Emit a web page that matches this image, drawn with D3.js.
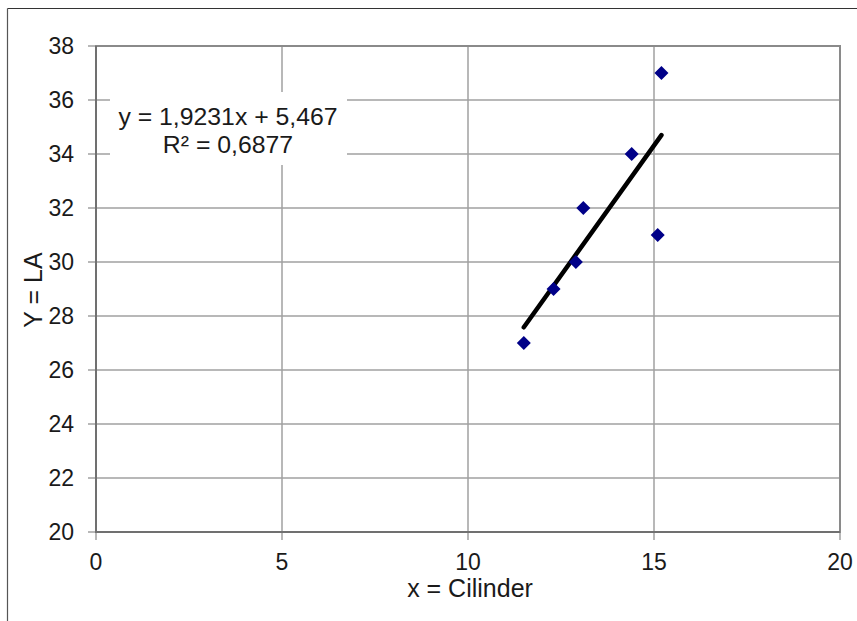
<!DOCTYPE html>
<html>
<head>
<meta charset="utf-8">
<script src="https://cdn.jsdelivr.net/npm/d3@7"></script>
<style>
  body { margin: 0; background: #fff; }
  text { font-family: "Liberation Sans", Arial, sans-serif; fill: #1a1a1a; }
</style>
</head>
<body>
<svg id="chart" width="857" height="621"></svg>
<script>
// data
var cilinder = [11.5, 12.3, 12.9, 13.1, 14.4, 15.1, 15.2];
var la = [27, 29, 30, 32, 34, 31, 37];
var xTicks = [0, 5, 10, 15, 20];
var yTicks = [20, 22, 24, 26, 28, 30, 32, 34, 36, 38];
var slope = 1.9231, intercept = 5.467;
var eqLines = ["y = 1,9231x + 5,467", "R\u00b2 = 0,6877"];

var svg = d3.select("#chart");
var margin = { left: 96, right: 17, top: 46, bottom: 89 };
var W = 857, H = 621;

// frame lines left/top
svg.append("line").attr("x1", 7.5).attr("x2", W).attr("y1", 8.5).attr("y2", 8.5)
    .attr("stroke", "#333").attr("stroke-width", 1.2);
svg.append("line").attr("x1", 7.5).attr("x2", 7.5).attr("y1", 8.5).attr("y2", H)
    .attr("stroke", "#555").attr("stroke-width", 1.2);

var x = d3.scaleLinear().domain([0, 20]).range([margin.left, W - margin.right]);
var y = d3.scaleLinear().domain([20, 38]).range([H - margin.bottom, margin.top]);

// grid
svg.append("g").selectAll("line").data(yTicks).enter().append("line")
    .attr("x1", x(0) - 8).attr("x2", x(20))
    .attr("y1", d => y(d)).attr("y2", d => y(d))
    .attr("stroke", "#a0a0a0").attr("stroke-width", 1.5);
svg.append("g").selectAll("line").data(xTicks).enter().append("line")
    .attr("x1", d => x(d)).attr("x2", d => x(d))
    .attr("y1", y(38)).attr("y2", y(20) + 8)
    .attr("stroke", "#a0a0a0").attr("stroke-width", 1.5);

// plot border
svg.append("rect").attr("x", x(0)).attr("y", y(38))
    .attr("width", x(20) - x(0)).attr("height", y(20) - y(38))
    .attr("fill", "none").attr("stroke", "#8a8a8a").attr("stroke-width", 2);
svg.append("path")
    .attr("d", "M" + x(0) + "," + y(38) + "V" + y(20) + "H" + x(20))
    .attr("fill", "none").attr("stroke", "#707070").attr("stroke-width", 2);

// tick labels
svg.append("g").selectAll("text").data(yTicks).enter().append("text")
    .attr("x", 74).attr("y", d => y(d) + 8)
    .attr("text-anchor", "end").attr("font-size", 23).text(d => d);
svg.append("g").selectAll("text").data(xTicks).enter().append("text")
    .attr("x", d => x(d)).attr("y", 570)
    .attr("text-anchor", "middle").attr("font-size", 23).text(d => d);

// axis titles
svg.append("text").attr("x", 470).attr("y", 597)
    .attr("text-anchor", "middle").attr("font-size", 25).text("x = Cilinder");
svg.append("text").attr("transform", "translate(42,290) rotate(-90)")
    .attr("text-anchor", "middle").attr("font-size", 25).text("Y = LA");

// equation box
svg.append("rect").attr("x", 110).attr("y", 92).attr("width", 237).attr("height", 73)
    .attr("fill", "#fff");
svg.append("g").selectAll("text").data(eqLines).enter().append("text")
    .attr("x", 228).attr("y", (d, i) => 125 + i * 28)
    .attr("text-anchor", "middle").attr("font-size", 24.8).text(d => d);

// trend line
var x0 = d3.min(cilinder), x1 = d3.max(cilinder);
svg.append("line")
    .attr("x1", x(x0)).attr("y1", y(slope * x0 + intercept))
    .attr("x2", x(x1)).attr("y2", y(slope * x1 + intercept))
    .attr("stroke", "#000").attr("stroke-width", 4.5).attr("stroke-linecap", "round");

// points
var pts = cilinder.map((c, i) => [c, la[i]]);
svg.append("g").selectAll("path").data(pts).enter().append("path")
    .attr("d", d3.symbol().type(d3.symbolDiamond2).size(125))
    .attr("transform", d => "translate(" + x(d[0]) + "," + y(d[1]) + ")")
    .attr("fill", "#000088");
</script>
</body>
</html>
